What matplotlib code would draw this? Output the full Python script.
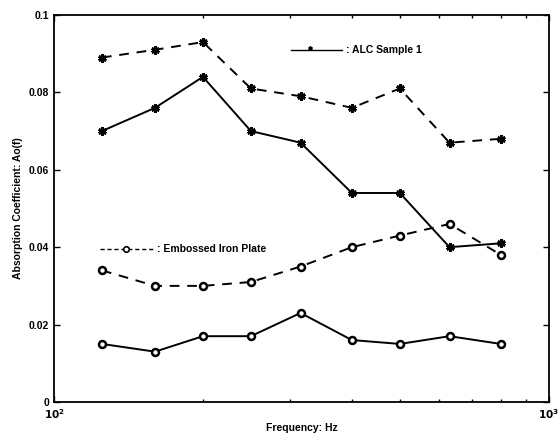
import matplotlib
matplotlib.use("Agg")
import matplotlib.pyplot as plt
from matplotlib.ticker import FixedLocator, LogLocator, NullFormatter

plt.rcParams["font.family"] = ["Liberation Sans", "DejaVu Sans"]
plt.rcParams["font.weight"] = "bold"
plt.rcParams["axes.labelweight"] = "bold"
plt.rcParams["mathtext.default"] = "bf"

freq = [125, 160, 200, 250, 315, 400, 500, 630, 800]
alc_dashed = [0.089, 0.091, 0.093, 0.081, 0.079, 0.076, 0.081, 0.067, 0.068]
alc_solid = [0.070, 0.076, 0.084, 0.070, 0.067, 0.054, 0.054, 0.040, 0.041]
iron_dashed = [0.034, 0.030, 0.030, 0.031, 0.035, 0.040, 0.043, 0.046, 0.038]
iron_solid = [0.015, 0.013, 0.017, 0.017, 0.023, 0.016, 0.015, 0.017, 0.015]

yticks = [0, 0.02, 0.04, 0.06, 0.08, 0.1]
ytick_labels = ["0", "0.02", "0.04", "0.06", "0.08", "0.1"]

fig = plt.figure(figsize=(5.6, 4.4), dpi=100)
ax = fig.add_axes([0.0964, 0.0864, 0.8836, 0.8796])

star = (6, 2, 0)
ax.plot(freq, alc_dashed, color="black", ls=(0, (5, 4)), lw=1.4,
        marker=star, ms=6, mew=2)
ax.plot(freq, alc_solid, color="black", ls="-", lw=1.4,
        marker=star, ms=6, mew=2)
ax.plot(freq, iron_dashed, color="black", ls=(0, (5, 4)), lw=1.4,
        marker="o", ms=5, mew=1.8, mfc="white")
ax.plot(freq, iron_solid, color="black", ls="-", lw=1.4,
        marker="o", ms=5, mew=1.8, mfc="white")

# in-plot labels (matlab style)
ax.plot([0.48, 0.582], [0.91, 0.91], transform=ax.transAxes, color="black", lw=1)
ax.plot([0.518], [0.915], transform=ax.transAxes, color="black",
        marker=star, ms=3, mew=1)
ax.text(0.59, 0.91, ": ALC Sample 1", transform=ax.transAxes,
        fontsize=7.5, va="center")
ax.plot([0.093, 0.205], [0.394, 0.394], transform=ax.transAxes,
        color="black", lw=1, ls=(0, (3, 2)))
ax.plot([0.145], [0.394], transform=ax.transAxes, color="black",
        marker="o", ms=4, mew=1.2, mfc="white")
ax.text(0.208, 0.394, ": Embossed Iron Plate", transform=ax.transAxes,
        fontsize=7.5, va="center")

ax.set_xscale("log")
ax.set_xlim(100, 1000)
ax.set_ylim(0, 0.1)
ax.xaxis.set_major_locator(FixedLocator([100, 1000]))
ax.set_xticklabels(["$10^2$", "$10^3$"])
ax.xaxis.set_minor_locator(LogLocator(base=10, subs=range(2, 10)))
ax.xaxis.set_minor_formatter(NullFormatter())
ax.set_yticks(yticks)
ax.set_yticklabels(ytick_labels)

ax.tick_params(which="both", direction="in", top=True, right=True,
               labelsize=7.5, width=1)
ax.tick_params(which="major", length=4)
ax.tick_params(which="minor", length=2.5)
for s in ax.spines.values():
    s.set_linewidth(1.3)

ax.set_xlabel("Frequency: Hz", fontsize=7.5, labelpad=2)
ax.set_ylabel("Absorption Coefficient: Ao(f)", fontsize=7.5, labelpad=4)

fig.savefig("out.png", dpi=100)
